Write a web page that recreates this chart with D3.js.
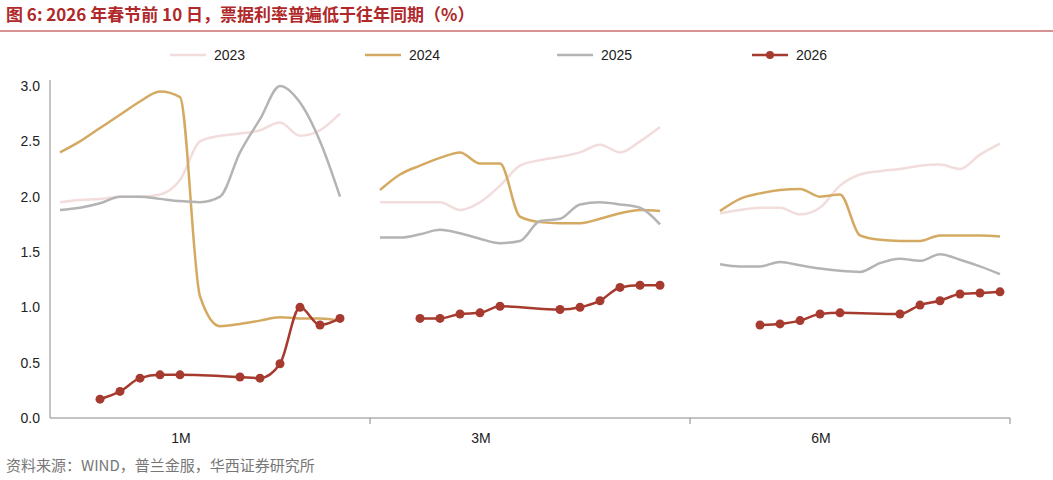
<!DOCTYPE html>
<html><head><meta charset="utf-8">
<script src="https://cdn.jsdelivr.net/npm/d3@7"></script>
<style>body{margin:0;background:#fff;font-family:"Liberation Sans",Arial,sans-serif}</style>
</head><body><div id="chart"></div>
<script>
const groups = ["1M", "3M", "6M"];
const groupStart = [0, 16, 33]; // slot offset of each tenor block
const years = ["2023", "2024", "2025", "2026"];
const colors = {"2023": "#f2dcdc", "2024": "#d4aa62", "2025": "#b4b4b4", "2026": "#a63a2f"};

const s2023 = [
  [1.95,1.97,1.98,2.0,2.0,2.02,2.15,2.5,2.55,2.57,2.6,2.67,2.55,2.6,2.75],
  [1.95,1.95,1.95,1.95,1.88,1.95,2.1,2.28,2.33,2.36,2.4,2.47,2.4,2.5,2.63],
  [1.85,1.88,1.9,1.9,1.84,1.9,2.1,2.2,2.23,2.25,2.28,2.29,2.25,2.38,2.48]
];
const s2024 = [
  [2.4,2.5,2.62,2.74,2.86,2.95,2.9,1.1,0.83,0.85,0.88,0.91,0.9,0.9,0.88],
  [2.06,2.2,2.28,2.35,2.4,2.3,2.3,1.82,1.77,1.76,1.76,1.8,1.85,1.88,1.87],
  [1.87,1.98,2.03,2.06,2.07,2.0,2.02,1.65,1.61,1.6,1.6,1.65,1.65,1.65,1.64]
];
const s2025 = [
  [1.88,1.9,1.94,2.0,2.0,1.98,1.96,1.95,2.0,2.4,2.7,3.0,2.85,2.5,2.0],
  [1.63,1.63,1.66,1.7,1.67,1.62,1.58,1.6,1.78,1.8,1.93,1.95,1.93,1.9,1.75],
  [1.39,1.37,1.37,1.41,1.38,1.35,1.33,1.32,1.4,1.44,1.42,1.48,1.43,1.37,1.3]
];
const slots2026 = [2,3,4,5,6,9,10,11,12,13,14];
const s2026 = [
  [0.17,0.24,0.36,0.39,0.39,0.37,0.36,0.49,1.0,0.84,0.9],
  [0.90,0.90,0.94,0.95,1.01,0.98,1.0,1.06,1.18,1.2,1.2],
  [0.84,0.85,0.88,0.94,0.95,0.94,1.02,1.06,1.12,1.13,1.14]
];
const yTicks = [0, 0.5, 1.0, 1.5, 2.0, 2.5, 3.0];

const W = 1053, H = 480;
const svg = d3.select("#chart").append("svg").attr("width", W).attr("height", H);

svg.append("text").attr("x", 6).attr("y", 21).attr("font-size", 17).attr("font-weight", "bold")
  .attr("fill", "#b0282a")
  .attr("font-family", "'Noto Sans CJK SC',sans-serif")
  .text("图 6: 2026 年春节前 10 日，票据利率普遍低于往年同期（%）");
svg.append("line").attr("x1", 0).attr("x2", W).attr("y1", 31).attr("y2", 31)
  .attr("stroke", "#b0282a").attr("stroke-width", 1.2);

const x = d3.scaleLinear().domain([-0.5, 47.5]).range([50, 1010]);
const y = d3.scaleLinear().domain([0, 3]).range([418, 86]);

const yAxis = svg.append("g").attr("transform", "translate(50,0)")
  .call(d3.axisLeft(y).tickValues(yTicks).tickFormat(d3.format(".1f")).tickSize(0));
yAxis.selectAll("text").attr("font-size", 14).attr("fill", "#222").attr("x", -10);
yAxis.select(".domain").remove();
svg.append("line").attr("x1", 50).attr("x2", 50).attr("y1", 80).attr("y2", 418).attr("stroke", "#888");

svg.append("line").attr("x1", 50).attr("x2", 1010).attr("y1", 418).attr("y2", 418).attr("stroke", "#888");
[370, 690, 1010].forEach(v => svg.append("line").attr("x1", v).attr("x2", v)
  .attr("y1", 418).attr("y2", 424).attr("stroke", "#888"));
const centers = [181, 481, 821];
groups.forEach((g, i) => svg.append("text").attr("x", centers[i]).attr("y", 443)
  .attr("text-anchor", "middle").attr("font-size", 14).attr("fill", "#222").text(g));

const line = d3.line().x(d => x(d[0])).y(d => y(d[1])).curve(d3.curveMonotoneX);
const series = {"2023": s2023, "2024": s2024, "2025": s2025};
["2023", "2024", "2025"].forEach(yr => {
  series[yr].forEach((vals, gi) => {
    svg.append("path").datum(vals.map((v, k) => [groupStart[gi] + k, v]))
      .attr("d", line).attr("fill", "none").attr("stroke", colors[yr]).attr("stroke-width", 2.5);
  });
});
s2026.forEach((vals, gi) => {
  const pts = vals.map((v, k) => [groupStart[gi] + slots2026[k], v]);
  svg.append("path").datum(pts).attr("d", line).attr("fill", "none")
    .attr("stroke", colors["2026"]).attr("stroke-width", 2.5);
  svg.selectAll(null).data(pts).enter().append("circle")
    .attr("cx", d => x(d[0])).attr("cy", d => y(d[1])).attr("r", 4.5).attr("fill", colors["2026"]);
});

const legendX = [170, 365, 557, 752];
years.forEach((yr, i) => {
  const lg = svg.append("g").attr("transform", `translate(${legendX[i]},55)`);
  lg.append("line").attr("x1", 0).attr("x2", 36).attr("stroke", colors[yr]).attr("stroke-width", 2.5);
  if (yr === "2026") lg.append("circle").attr("cx", 18).attr("r", 4).attr("fill", colors[yr]);
  lg.append("text").attr("x", 44).attr("y", 5).attr("font-size", 14).attr("fill", "#222").text(yr);
});

svg.append("text").attr("x", 6).attr("y", 471).attr("font-size", 15).attr("fill", "#777")
  .attr("font-family", "'Noto Sans CJK SC',sans-serif")
  .text("资料来源：WIND，普兰金服，华西证券研究所");
</script></body></html>
